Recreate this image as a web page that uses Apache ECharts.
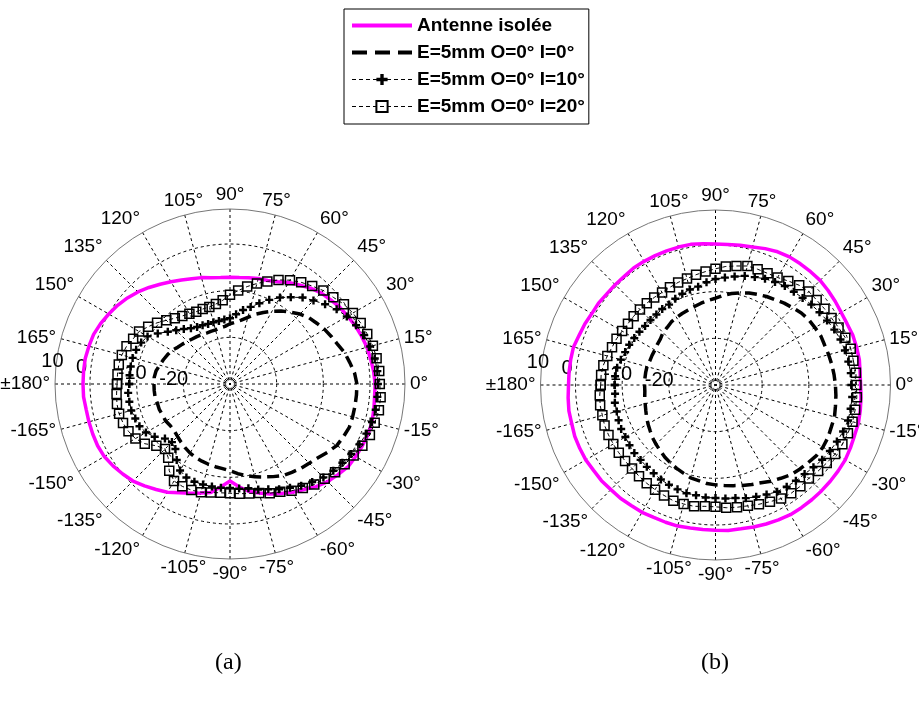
<!DOCTYPE html>
<html><head><meta charset="utf-8">
<script src="https://cdn.jsdelivr.net/npm/echarts@6/dist/echarts.min.js"></script>
<style>html,body{margin:0;padding:0;background:#fff}#c{width:919px;height:702px}</style>
</head><body><div id="c"></div>
<script>
// angles (deg), -180 .. 175 step 5
const ANGLES = [-180,-175,-170,-165,-160,-155,-150,-145,-140,-135,-130,-125,
 -120,-115,-110,-105,-100,-95,-90,-85,-80,-75,-70,-65,
 -60,-55,-50,-45,-40,-35,-30,-25,-20,-15,-10,-5,
 0,5,10,15,20,25,30,35,40,45,50,55,
 60,65,70,75,80,85,90,95,100,105,110,115,
 120,125,130,135,140,145,150,155,160,165,170,175];

const SERIES_NAMES = ['Antenne isolée','E=5mm O=0° I=0°','E=5mm O=0° I=10°','E=5mm O=0° I=20°'];
const RADIAL_LABELS = [-20,-10,0,10];

// (a) values in dB
const A_ISO = [1.5,1.5,1.3,1.3,1.3,1.3,1.1,0.6,0,-0.6,-1.5,-2.4,
 -3.2,-4.3,-5.1,-5.8,-6.4,-7.9,-9.2,-7.9,-6.6,-5.8,-4.9,-4.1,
 -3.2,-2.4,-1.3,-0.4,0.2,0.9,1.1,1.3,1.5,1.5,1.3,1.1,
 1.1,0.9,0.6,0.4,0,-0.4,-0.9,-1.3,-1.9,-2.4,-3.2,-4.1,
 -4.9,-5.8,-6.4,-6.6,-6.9,-7.1,-7.1,-7.1,-6.9,-6.4,-6.0,-5.4,
 -4.7,-3.9,-3.0,-2.1,-1.3,-0.6,0,0.6,1.1,1.3,1.5,1.5];
const A_I0 = [-13.7,-13.7,-13.7,-13.9,-13.9,-14.1,-14.1,-14.4,-14.4,-14.1,-13.7,-13.3,
 -12.9,-12.6,-12.4,-12.2,-12.0,-11.8,-11.4,-10.7,-10.1,-9.4,-8.8,-8.1,
 -7.3,-6.9,-6.4,-6.0,-5.4,-4.5,-3.6,-3.2,-2.8,-2.8,-2.8,-2.8,
 -2.8,-3.2,-3.9,-4.5,-5.4,-6.0,-6.6,-7.3,-7.9,-8.8,-9.9,-10.9,
 -12.0,-13.1,-14.1,-15.2,-16.1,-16.7,-17.1,-17.6,-17.8,-18.0,-18.0,-18.0,
 -17.8,-17.6,-17.4,-17.1,-16.7,-16.3,-15.6,-15.2,-14.8,-14.4,-13.9,-13.7];
const A_I10 = [-8.4,-8.1,-8.1,-8.1,-8.4,-8.6,-9.2,-10.3,-11.8,-12.4,-11.8,-10.1,
 -8.6,-7.9,-7.7,-7.7,-7.7,-7.7,-7.7,-7.5,-7.3,-6.6,-6.0,-5.1,
 -4.3,-3.4,-2.6,-1.7,-1.1,-0.6,0,0.6,1.1,1.5,1.7,1.7,
 1.7,1.7,1.5,1.1,0.6,-0.2,-1.1,-2.1,-3.4,-4.7,-5.8,-7.3,
 -8.6,-10.1,-11.6,-12.9,-13.9,-15.0,-15.9,-16.1,-16.3,-16.3,-16.3,-16.1,
 -15.9,-15.4,-14.6,-13.7,-12.6,-11.1,-9.6,-9.0,-8.6,-8.4,-8.4,-8.4];
const A_I20 = [-5.8,-5.6,-5.4,-5.4,-5.6,-6.0,-6.6,-7.7,-9.4,-10.3,-9.4,-7.3,
 -6.0,-5.8,-5.8,-6.0,-6.4,-6.6,-6.6,-6.4,-6.2,-5.8,-5.1,-4.5,
 -3.6,-2.8,-1.9,-1.3,-0.6,0,0.6,1.3,1.9,2.1,2.4,2.4,
 2.1,2.1,1.9,1.7,1.3,0.9,0.4,-0.2,-1.1,-1.7,-2.6,-3.4,
 -4.3,-5.4,-6.6,-7.7,-8.8,-9.9,-10.9,-12.0,-12.6,-12.9,-12.9,-12.9,
 -12.6,-12.2,-11.6,-10.7,-9.6,-8.6,-7.5,-7.1,-6.4,-6.0,-5.8,-5.8];

// (b) values in dB
const B_ISO = [1.5,1.7,1.9,1.9,2.1,2.1,2.1,1.9,1.9,1.7,1.7,1.5,
 1.5,1.3,1.3,1.3,1.1,1.1,1.1,1.3,1.3,1.5,1.7,1.9,
 2.1,2.1,2.1,2.1,2.1,2.1,2.1,1.9,1.7,1.7,1.5,1.3,
 1.1,1.1,1.3,1.3,1.3,1.1,1.1,1.3,1.5,1.7,1.7,1.7,
 1.7,1.5,1.1,0.6,0.4,0.2,0.2,0.4,0.6,0.6,0.6,0.6,
 0.6,0.6,0.4,0.4,0.4,0.6,0.6,0.9,1.1,1.5,1.5,1.5];
const B_I0 = [-14.8,-14.8,-14.6,-14.4,-14.1,-13.7,-13.3,-12.9,-12.4,-12.0,-11.6,-11.1,
 -10.7,-10.3,-9.9,-9.4,-9.2,-8.8,-8.6,-8.4,-8.1,-7.7,-7.3,-6.9,
 -6.2,-5.6,-4.9,-4.5,-4.1,-3.6,-3.4,-3.4,-3.6,-3.6,-3.9,-4.1,
 -4.3,-4.5,-4.7,-4.9,-5.1,-5.1,-5.4,-5.6,-6.0,-6.6,-7.1,-7.7,
 -8.1,-8.6,-9.0,-9.6,-10.1,-10.7,-11.4,-11.8,-12.2,-12.6,-12.9,-13.1,
 -13.3,-13.5,-13.9,-14.1,-14.6,-14.8,-15.0,-15.0,-15.0,-14.8,-14.8,-14.8];
const B_I10 = [-8.4,-8.4,-8.1,-8.1,-7.9,-7.7,-7.7,-7.5,-7.3,-7.3,-7.1,-6.9,
 -6.6,-6.4,-6.2,-6.0,-6.0,-5.8,-5.8,-5.6,-5.4,-4.9,-4.5,-4.1,
 -3.6,-3.4,-3.2,-3.0,-2.6,-2.1,-1.7,-1.3,-0.9,-0.6,-0.6,-0.6,
 -0.9,-0.9,-1.1,-1.3,-1.5,-1.9,-2.4,-2.8,-3.2,-3.6,-3.9,-4.1,
 -4.5,-4.9,-5.4,-5.8,-6.4,-6.9,-7.3,-7.9,-8.6,-8.8,-9.2,-9.6,
 -10.1,-10.1,-10.3,-10.3,-10.3,-10.1,-9.9,-9.6,-9.4,-9.0,-8.6,-8.4];
const B_I20 = [-5.4,-5.1,-4.9,-4.9,-4.7,-4.7,-4.7,-4.7,-4.7,-4.7,-4.5,-4.3,
 -4.1,-3.9,-3.6,-3.6,-3.6,-3.9,-3.9,-3.6,-3.4,-3.2,-2.8,-2.4,
 -1.9,-1.7,-1.7,-1.7,-1.3,-0.9,-0.4,0,0.2,0.4,0.4,0.4,
 0.2,0.2,0,0,-0.4,-0.9,-1.3,-1.5,-1.7,-1.7,-2.1,-2.8,
 -3.4,-3.6,-3.6,-3.6,-4.1,-4.5,-5.1,-5.6,-6.0,-6.4,-6.6,-6.9,
 -7.1,-7.1,-7.1,-7.1,-7.1,-7.1,-6.9,-6.6,-6.4,-6.0,-5.6,-5.4];

function loop(vals) {
  const d = ANGLES.map((a, i) => [vals[i], a]);
  d.push([vals[0], 180]);
  return d;
}

const FONT = 'Liberation Sans';
const PLUS = 'path://M2.8,0 H5.2 V2.8 H8 V5.2 H5.2 V8 H2.8 V5.2 H0 V2.8 H2.8 Z';
const CENTERS = [[230, 384], [715.5, 385]];
const R = 175;
const R_LAB = 168;

function angleFmt(v) {
  if (v === -180) return '±180°';
  if (v === 180) return '';
  return v + '°';
}

const polar = [], angleAxis = [], radiusAxis = [];
CENTERS.forEach((c, i) => {
  polar.push({center: c, radius: R});
  angleAxis.push({
    polarIndex: i, type: 'value', min: -180, max: 180, interval: 15,
    startAngle: 180, clockwise: false,
    axisLine: {show: true, lineStyle: {color: '#777', width: 1}},
    axisTick: {show: false},
    axisLabel: {show: true, formatter: angleFmt, color: '#000', fontSize: 19, fontFamily: FONT, margin: 5},
    splitLine: {show: true, lineStyle: {color: '#000', width: 1, type: [3, 3]}}
  });
  radiusAxis.push({
    polarIndex: i, type: 'value', min: -30, max: 7.5, interval: 10,
    axisLine: {show: false}, axisTick: {show: false}, axisLabel: {show: false},
    splitLine: {show: true, lineStyle: {color: ['#000', '#000', '#000', '#000', 'rgba(0,0,0,0)'], width: 1, type: [3, 3]}}
  });
});
CENTERS.forEach((c, i) => {
  polar.push({center: c, radius: R_LAB});
  angleAxis.push({polarIndex: 2 + i, type: 'value', min: -180, max: 180, startAngle: 171.5, show: false});
  radiusAxis.push({
    polarIndex: 2 + i, type: 'value', min: -30, max: 10, interval: 10,
    axisLine: {show: false}, axisTick: {show: false}, splitLine: {show: false},
    axisLabel: {show: true, color: '#000', fontSize: 20, fontFamily: FONT, margin: 2,
      formatter: v => RADIAL_LABELS.indexOf(v) < 0 ? '' : (v === 0 ? '{z|0}' : String(v)),
      rich: {z: {fontSize: 20, fontFamily: FONT, color: '#000', padding: [0, 18, 0, 0]}}}
  });
});

function makeSeries(pi, iso, i0, i10, i20) {
  return [
    {name: SERIES_NAMES[0], type: 'line', coordinateSystem: 'polar', polarIndex: pi, data: loop(iso),
     symbol: 'none', lineStyle: {color: '#ff00ff', width: 3.5}, itemStyle: {color: '#ff00ff'}},
    {name: SERIES_NAMES[1], type: 'line', coordinateSystem: 'polar', polarIndex: pi, data: loop(i0),
     symbol: 'none', lineStyle: {color: '#000', width: 3.5, type: [12, 6]}, itemStyle: {color: '#000'}},
    {name: SERIES_NAMES[2], type: 'line', coordinateSystem: 'polar', polarIndex: pi, data: loop(i10),
     symbol: PLUS, symbolSize: 8, showAllSymbol: true,
     lineStyle: {color: '#000', width: 1, type: [4, 3]}, itemStyle: {color: '#000'}},
    {name: SERIES_NAMES[3], type: 'line', coordinateSystem: 'polar', polarIndex: pi, data: loop(i20),
     symbol: 'rect', symbolSize: 9, showAllSymbol: true,
     lineStyle: {color: '#000', width: 1, type: [4, 3]},
     itemStyle: {color: 'rgba(255,255,255,0)', borderColor: '#000', borderWidth: 1.5}}
  ];
}

const chart = echarts.init(document.getElementById('c'), null, {renderer: 'canvas'});
chart.setOption({
  animation: false,
  backgroundColor: '#fff',
  title: [
    {text: '(a)', left: 210, top: 646, textStyle: {fontFamily: 'Liberation Serif', fontWeight: 'normal', fontSize: 24, color: '#000'}},
    {text: '(b)', left: 696, top: 646, textStyle: {fontFamily: 'Liberation Serif', fontWeight: 'normal', fontSize: 24, color: '#000'}}
  ],
  legend: {
    orient: 'vertical', left: 344, top: 9,
    itemWidth: 60, itemHeight: 14, itemGap: 8,
    padding: [7, 4, 8, 6],
    borderColor: '#000', borderWidth: 1, backgroundColor: '#fff',
    textStyle: {fontFamily: FONT, fontSize: 19, fontWeight: 'bold', color: '#000'},
    data: [
      {name: SERIES_NAMES[0], itemStyle: {opacity: 0}, lineStyle: {width: 4, color: '#ff00ff'}},
      {name: SERIES_NAMES[1], itemStyle: {opacity: 0}, lineStyle: {width: 4, color: '#000', type: [15, 8]}},
      {name: SERIES_NAMES[2], lineStyle: {width: 1.2, color: '#000', type: [4, 3]}},
      {name: SERIES_NAMES[3], lineStyle: {width: 1.2, color: '#000', type: [4, 3]}}
    ]
  },
  polar: polar,
  angleAxis: angleAxis,
  radiusAxis: radiusAxis,
  series: [].concat(makeSeries(0, A_ISO, A_I0, A_I10, A_I20), makeSeries(1, B_ISO, B_I0, B_I10, B_I20))
});
</script>
</body></html>
